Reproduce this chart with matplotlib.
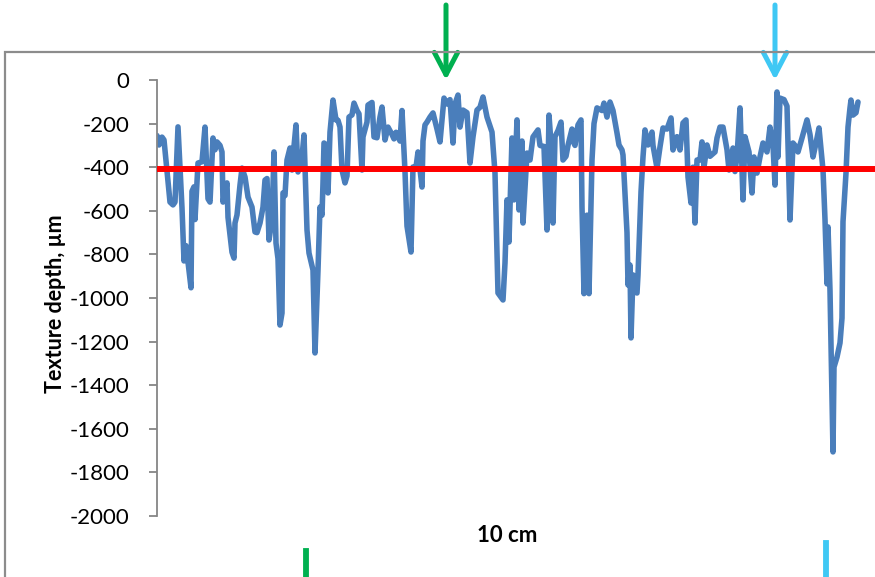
"""Surface texture profile with mean-depth line and marked positions."""

import matplotlib

matplotlib.use("Agg")
import matplotlib.pyplot as plt
import matplotlib.transforms as mtransforms
from matplotlib.patches import Rectangle

# profile: sample position along the 10 cm scan and texture depth (um)
position = [
    0, 2, 5, 7, 10, 13, 16, 18, 21, 25, 27, 29, 31, 34, 35, 37, 38, 41, 45, 48,
    51, 53, 56, 58, 60, 63, 65, 66, 70, 71, 75, 77, 78, 80, 83, 85, 88, 91, 95, 98,
    100, 103, 106, 108, 110, 112, 115, 117, 119, 121, 123, 125, 126, 128, 130, 133, 135, 136, 139, 141,
    145, 147, 150, 152, 156, 158, 161, 163, 165, 166, 167, 170, 171, 173, 176, 179, 181, 183, 185, 188,
    190, 192, 195, 197, 200, 202, 205, 206, 210, 211, 215, 217, 220, 223, 225, 228, 231, 235, 237, 239,
    243, 245, 248, 250, 254, 256, 259, 261, 265, 266, 268, 270, 273, 276, 280, 283, 287, 290, 293, 296,
    298, 301, 303, 306, 310, 313, 316, 320, 323, 326, 330, 335, 338, 341, 346, 348, 350, 352, 355, 357,
    360, 362, 365, 366, 370, 373, 376, 381, 383, 387, 390, 392, 394, 396, 398, 401, 404, 406, 409, 411,
    415, 417, 418, 421, 424, 425, 427, 430, 432, 435, 437, 440, 445, 447, 450, 453, 456, 460, 462, 465,
    466, 470, 471, 473, 474, 476, 478, 480, 481, 484, 486, 488, 491, 495, 496, 500, 503, 506, 510, 514,
    516, 520, 523, 526, 529, 531, 534, 536, 538, 540, 543, 545, 547, 550, 553, 558, 560, 563, 566, 570,
    572, 576, 578, 580, 583, 586, 588, 592, 595, 597, 600, 603, 606, 610, 613, 616, 618, 620, 621, 623,
    627, 630, 631, 633, 636, 638, 641, 645, 650, 653, 656, 659, 662, 666, 668, 670, 671, 673, 676, 677,
    680, 683, 685, 686, 689, 691, 693, 694, 696, 699, 701,
]
depth = [
    -255, -298, -262, -275, -420, -560, -573, -560, -215, -587, -830, -760, -835, -953, -510, -490, -640, -381, -375, -216,
    -545, -560, -266, -320, -284, -300, -330, -560, -472, -630, -790, -817, -656, -619, -482, -404, -445, -537, -583, -697,
    -700, -656, -583, -459, -452, -734, -642, -330, -748, -820, -1124, -1069, -518, -530, -367, -312, -413, -353, -206, -422,
    -353, -252, -688, -794, -872, -1252, -872, -583, -620, -472, -289, -300, -518, -239, -92, -183, -185, -216, -413, -472,
    -440, -170, -160, -106, -140, -155, -413, -261, -193, -115, -103, -261, -265, -170, -124, -275, -216, -250, -270, -240,
    -280, -140, -420, -670, -789, -399, -400, -330, -491, -280, -206, -193, -170, -151, -225, -284, -83, -110, -90, -289,
    -110, -69, -216, -138, -150, -381, -261, -138, -125, -78, -170, -239, -427, -977, -1009, -839, -550, -743, -266, -550,
    -183, -596, -280, -656, -335, -367, -261, -229, -300, -305, -688, -161, -290, -656, -260, -232, -193, -367, -350, -300,
    -225, -290, -300, -206, -183, -583, -980, -620, -980, -367, -200, -128, -140, -106, -170, -101, -140, -243, -298, -321,
    -344, -700, -940, -849, -1183, -894, -972, -977, -894, -514, -353, -229, -298, -239, -300, -404, -307, -220, -225, -174,
    -321, -260, -321, -197, -183, -445, -564, -400, -656, -367, -367, -284, -400, -298, -350, -330, -266, -216, -216, -320,
    -413, -312, -420, -350, -128, -550, -260, -330, -518, -353, -427, -353, -289, -330, -216, -300, -482, -55, -353, -83,
    -90, -120, -300, -642, -289, -300, -330, -266, -183, -250, -353, -290, -220, -413, -640, -935, -674, -965, -1706, -1317,
    -1271, -1206, -1092, -650, -427, -216, -128, -92, -161, -150, -101,
]

mean_depth = -410
y_ticks = list(range(0, -2001, -200))
arrow_pos = [289, 618]      # top arrows
mark_pos = [149, 669]       # short marks under the axis
mark_colors = ["#00B050", "#3FC8F4"]

W, H = 875, 577
fig = plt.figure(figsize=(W / 100, H / 100), dpi=100)
ax = fig.add_axes([157 / W, 61 / H, 718 / W, 436 / H])

ax.plot(position, depth, color="#4A7EBB", lw=4.0, solid_joinstyle="round",
        solid_capstyle="round", zorder=2)
ax.axhline(mean_depth, color="#FF0000", lw=4.3, zorder=3)

ax.set_xlim(0, 718)
ax.set_ylim(-2000, 0)
ax.set_yticks(y_ticks)
ax.set_yticklabels([str(t) for t in y_ticks], fontfamily="Lato", fontsize=16)
ax.set_xticks([])
for side in ["top", "right", "bottom"]:
    ax.spines[side].set_visible(False)
ax.spines["left"].set_color("#868686")
ax.spines["left"].set_linewidth(1.3)
ax.tick_params(axis="y", length=6, width=1.3, color="#868686", pad=14)

# chart border (clipped by the picture on the right and bottom)
fig.patches.append(Rectangle((5 / W, -0.2), 1.2, 0.2 + 525 / H, transform=fig.transFigure,
                             fill=False, edgecolor="#8C8C8C", lw=1.6, zorder=0))

trans = mtransforms.blended_transform_factory(ax.transData, ax.transAxes)
for xp, c in zip(arrow_pos, mark_colors):
    ax.annotate("", xy=(xp, 1.0), xytext=(xp, 1.172), xycoords=trans, textcoords=trans,
                annotation_clip=False,
                arrowprops=dict(arrowstyle="->,head_length=0.8,head_width=0.42", color=c,
                                lw=3.6, mutation_scale=20, shrinkA=0, shrinkB=0))
for xp, c, top in zip(mark_pos, mark_colors, [-0.080, -0.062]):
    ax.plot([xp, xp], [top, -0.15], color=c, lw=4.2, transform=trans, clip_on=False)

fig.text(55 / W, 1 - 304 / H, "Texture depth, µm", rotation=90, ha="center", va="center",
         fontfamily="Lato", fontweight="bold", fontsize=15.5)
fig.text(507 / W, 1 - 536 / H, "10 cm", ha="center", va="center",
         fontfamily="Lato", fontweight="bold", fontsize=16)

fig.savefig("out.png", dpi=100)
